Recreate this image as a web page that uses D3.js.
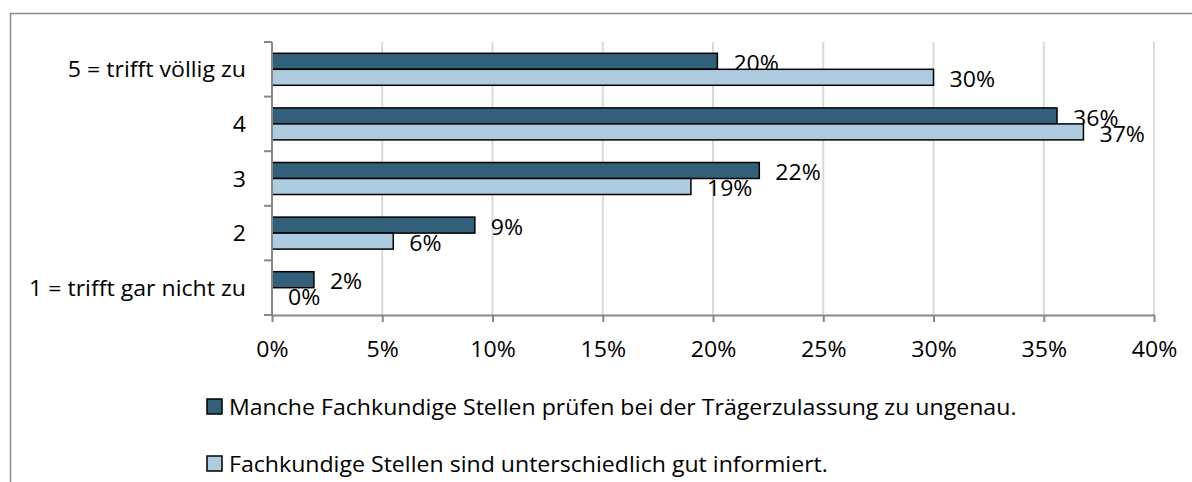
<!DOCTYPE html>
<html>
<head>
<meta charset="utf-8">
<script src="https://cdn.jsdelivr.net/npm/d3@7"></script>
<style>
  html, body { margin: 0; padding: 0; background: #ffffff; }
  svg { display: block; }
  text { font-family: "Open Sans", sans-serif; fill: #000; }
</style>
</head>
<body>
<svg id="chart" width="1192" height="482"></svg>
<script>
const categories = ["5 = trifft völlig zu", "4", "3", "2", "1 = trifft gar nicht zu"];
const seriesNames = [
  "Manche Fachkundige Stellen prüfen bei der Trägerzulassung zu ungenau.",
  "Fachkundige Stellen sind unterschiedlich gut informiert."
];
const seriesDark = [20.2, 35.6, 22.1, 9.2, 1.9];
const seriesLight = [30.0, 36.8, 19.0, 5.5, 0.0];
const labelsDark = ["20%", "36%", "22%", "9%", "2%"];
const labelsLight = ["30%", "37%", "19%", "6%", "0%"];
const xTicks = [0, 5, 10, 15, 20, 25, 30, 35, 40];
const colors = ["#325f7a", "#aecce0"];

const svg = d3.select("#chart");
const fontSize = 21.5;
const sx = 1.075;

function putText(sel, px, py) {
  return sel.attr("transform", `translate(${px},${py}) scale(${sx},1)`)
    .attr("x", 0).attr("y", 0);
}

// outer frame (top + left visible)
svg.append("path")
  .attr("d", "M10.5,500 L10.5,13.5 L1192,13.5")
  .attr("fill", "none")
  .attr("stroke", "#8c8c8c")
  .attr("stroke-width", 1.5);

const x = d3.scaleLinear().domain([0, 40]).range([272, 1154]);
const y = d3.scaleBand().domain(categories).range([42, 315]).paddingInner(0).paddingOuter(0);
const barH = 16;

// gridlines
svg.append("g").selectAll("line")
  .data(xTicks.filter(d => d > 0))
  .join("line")
  .attr("x1", d => x(d)).attr("x2", d => x(d))
  .attr("y1", 42).attr("y2", 315)
  .attr("stroke", "#d9d9d9").attr("stroke-width", 2);

// bars
const data = categories.map((c, i) => ({c, v: [seriesDark[i], seriesLight[i]], l: [labelsDark[i], labelsLight[i]]}));
const g = svg.append("g");
data.forEach(d => {
  [0, 1].forEach(s => {
    const yc = y(d.c) + y.bandwidth() / 2;
    const y0 = s === 0 ? yc - barH : yc;
    if (d.v[s] > 0) {
      g.append("rect")
        .attr("x", x(0))
        .attr("y", y0)
        .attr("width", x(d.v[s]) - x(0))
        .attr("height", barH)
        .attr("fill", colors[s])
        .attr("stroke", "#000")
        .attr("stroke-width", 1.5);
    }
    putText(g.append("text"), x(d.v[s]) + 16, y0 + barH / 2 + 1.5)
      .attr("dominant-baseline", "central")
      .attr("font-size", fontSize)
      .text(d.l[s]);
  });
});

// x axis
const xAxis = svg.append("g")
  .attr("transform", "translate(0,315)")
  .call(d3.axisBottom(x).tickValues(xTicks).tickFormat(d => d + "%").tickSizeInner(7).tickSizeOuter(0).tickPadding(20));
xAxis.select(".domain").attr("stroke", "#868686").attr("stroke-width", 2);
xAxis.selectAll(".tick line").attr("stroke", "#868686").attr("stroke-width", 2);
xAxis.selectAll(".tick text")
  .attr("font-size", fontSize)
  .attr("font-family", "Open Sans, sans-serif")
  .attr("fill", "#000")
  .attr("transform", `scale(${sx},1)`);

// y axis
const yAxisG = svg.append("g").attr("transform", "translate(272,0)");
yAxisG.append("line")
  .attr("x1", 0).attr("x2", 0).attr("y1", 42).attr("y2", 315)
  .attr("stroke", "#868686").attr("stroke-width", 2);
const bounds = categories.map(c => y(c)).concat([y.range()[1]]);
yAxisG.selectAll("line.tk").data(bounds).join("line")
  .attr("class", "tk")
  .attr("x1", -8).attr("x2", 0)
  .attr("y1", d => d).attr("y2", d => d)
  .attr("stroke", "#868686").attr("stroke-width", 2);
yAxisG.selectAll("text").data(categories).join("text")
  .each(function(d) {
    putText(d3.select(this), -26, y(d) + y.bandwidth() / 2);
  })
  .attr("text-anchor", "end")
  .attr("dominant-baseline", "central")
  .attr("font-size", fontSize)
  .text(d => d);

// legend
const legend = svg.append("g");
const legY = [406.5, 463.5];
seriesNames.forEach((n, i) => {
  legend.append("rect")
    .attr("x", 207).attr("y", legY[i] - 7.5)
    .attr("width", 15).attr("height", 15)
    .attr("fill", colors[i]).attr("stroke", "#000").attr("stroke-width", 1.5);
  putText(legend.append("text"), 229, legY[i])
    .attr("dominant-baseline", "central")
    .attr("font-size", fontSize)
    .text(n);
});
</script>
</body>
</html>
